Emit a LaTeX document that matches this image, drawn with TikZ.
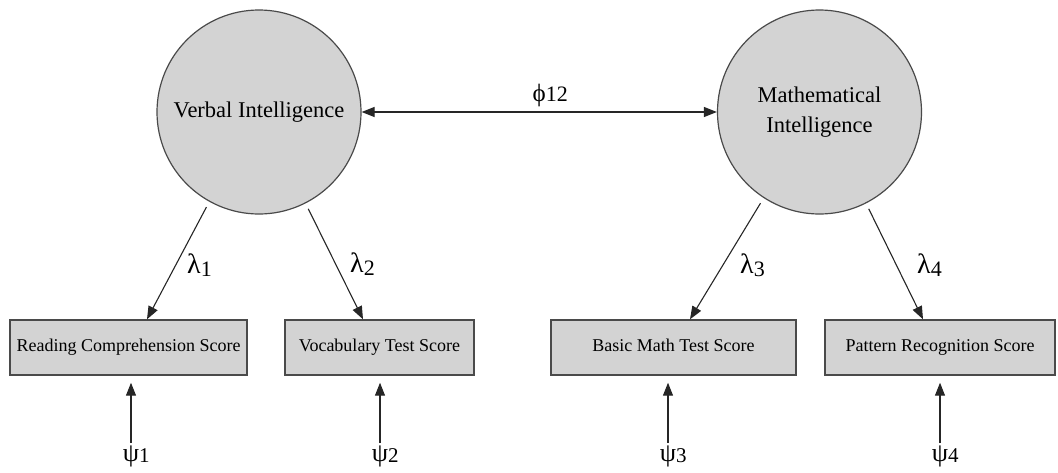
\documentclass[tikz,border=0pt]{standalone}
\usepackage{fontspec}
\setmainfont{Liberation Serif}
\usetikzlibrary{arrows.meta,calc}
\definecolor{fillgray}{HTML}{D3D3D3}
\definecolor{edgegray}{HTML}{4A4A4A}
\tikzset{
  latent/.style={circle,draw=edgegray,fill=fillgray,line width=1.2pt,minimum size=204pt,inner sep=0pt,align=center,font=\fontsize{22.5}{30}\selectfont},
  observed/.style={rectangle,draw=edgegray,fill=fillgray,line width=1.4pt,minimum height=55pt,inner sep=0pt,text height=12pt,text depth=4pt,font=\fontsize{18}{20}\selectfont},
  arr/.style={-{Triangle[length=13pt,width=10pt]},line width=1.1pt,draw=black!85},
  darr/.style={{Triangle[length=13pt,width=10pt]}-{Triangle[length=13pt,width=10pt]},line width=1.1pt,draw=black!85},
  greek/.style={inner sep=1pt,font=\fontsize{28}{30}\selectfont},
  errlab/.style={inner sep=1pt,font=\fontsize{26}{28}\selectfont},
}
\newcommand{\gsub}[1]{\rlap{\raisebox{-3pt}{\fontsize{22}{24}\selectfont #1}}}
\newcommand{\esub}[1]{\rlap{\raisebox{-1pt}{\fontsize{21}{23}\selectfont #1}}}
\begin{document}
\begin{tikzpicture}[x=1pt,y=-1pt]
\useasboundingbox (0,0) rectangle (1058,472);
\node[latent] (verbal) at (259,112) {Verbal Intelligence};
\node[latent] (math) at (819.5,112) {Mathematical\\Intelligence};
\node[observed,minimum width=237pt] (rc) at (128.5,347.5) {Reading Comprehension Score};
\node[observed,minimum width=189pt] (voc) at (379.5,347.5) {Vocabulary Test Score};
\node[observed,minimum width=245pt] (bm) at (673.5,347.5) {Basic Math Test Score};
\node[observed,minimum width=230pt] (pr) at (940,347.5) {Pattern Recognition Score};
% covariance
\draw[darr] (verbal.east) -- (math.west) node[pos=0.5,above=4pt,inner sep=1pt,font=\fontsize{25}{27}\selectfont] (phi) {ϕ\rlap{\fontsize{22}{24}\selectfont 12}};
% loadings
\coordinate (t1) at ($(rc.north)+(18.5,0)$);
\coordinate (t2) at ($(voc.north)+(-16.5,0)$);
\coordinate (t3) at ($(bm.north)+(16.5,0)$);
\coordinate (t4) at ($(pr.north)+(-17,0)$);
\draw[arr,shorten <=6pt] (verbal.241) -- (t1);
\draw[arr,shorten <=6pt] (verbal.297) -- (t2);
\draw[arr,shorten <=6pt] (math.237) -- (t3);
\draw[arr,shorten <=6pt] (math.297.5) -- (t4);
\node[greek] (l1) at (194,265) {λ\gsub{1}};
\node[greek] (l2) at (357,264) {λ\gsub{2}};
\node[greek] (l3) at (747,265) {λ\gsub{3}};
\node[greek] (l4) at (924,265) {λ\gsub{4}};
% errors
\node[errlab] (e1) at (131,456) {ψ\esub{1}};
\node[errlab] (e2) at (380,456) {ψ\esub{2}};
\node[errlab] (e3) at (668,456) {ψ\esub{3}};
\node[errlab] (e4) at (940,456) {ψ\esub{4}};
\draw[arr,shorten <=1pt,shorten >=7pt] (e1.north) -- (e1.north |- rc.south);
\draw[arr,shorten <=1pt,shorten >=7pt] (e2.north) -- (e2.north |- voc.south);
\draw[arr,shorten <=1pt,shorten >=7pt] (e3.north) -- (e3.north |- bm.south);
\draw[arr,shorten <=1pt,shorten >=7pt] (e4.north) -- (e4.north |- pr.south);
\end{tikzpicture}
\end{document}
